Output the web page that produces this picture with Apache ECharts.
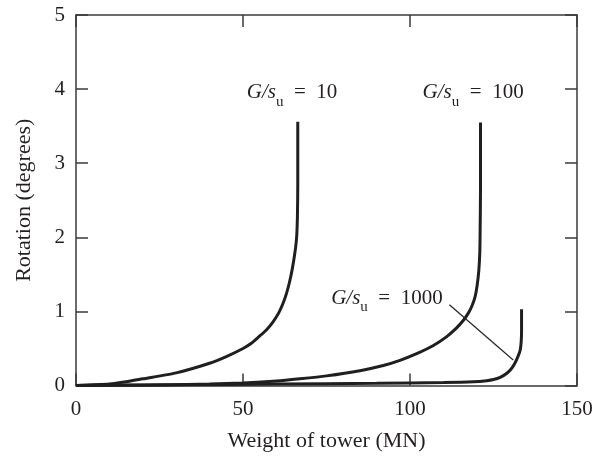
<!DOCTYPE html>
<html>
<head>
<meta charset="utf-8">
<script src="https://cdn.jsdelivr.net/npm/echarts@6/dist/echarts.min.js"></script>
<style>html,body{margin:0;padding:0;background:#fff}#c{width:615px;height:458px}</style>
</head>
<body>
<div id="c"></div>
<script>
// Data
var xTicks = [0, 50, 100, 150];
var yTicks = [0, 1, 2, 3, 4, 5];
var curve10 = [[0,0],[10,0.02],[15,0.05],[20,0.09],[30,0.17],[40,0.30],[45,0.39],[50,0.50],[52.5,0.57],[54.8,0.66],[57,0.75],[59,0.86],[60.7,0.98],[62,1.11],[63,1.24],[63.9,1.39],[64.7,1.56],[65.3,1.72],[65.8,1.88],[66.1,2.03],[66.3,2.3],[66.4,2.7],[66.4,3.56]];
var curve100 = [[0,0],[20,0.005],[40,0.02],[50,0.035],[60,0.06],[67,0.09],[75,0.13],[85,0.2],[92,0.27],[97,0.34],[102,0.43],[107,0.54],[111,0.66],[113.8,0.77],[116,0.88],[117.5,0.98],[118.6,1.08],[119.5,1.2],[120.1,1.35],[120.6,1.55],[120.9,1.8],[121,2.1],[121.1,2.6],[121.1,3.55]];
var curve1000 = [[0,0],[30,0.01],[60,0.02],[90,0.03],[110,0.04],[119,0.05],[123,0.065],[125,0.08],[127,0.11],[129,0.165],[130.4,0.23],[131.4,0.3],[132.4,0.4],[133,0.48],[133.3,0.6],[133.4,0.75],[133.4,1.03]];
var leader1000 = [[111.8,1.09],[130.9,0.345]];
var labelNames = ['10', '100', '1000'];
var labelPos = [[64.7,3.96],[118.9,3.96],[93.1,1.18]];

var FONT = 'Liberation Serif';
var TXT = '#231f20';
var chart = echarts.init(document.getElementById('c'), null, {renderer:'canvas'});
var axisLineStyle = {color:'#3a3a3a', width:1.5};
function baseX(show){
  return {type:'value', min:0, max:150, interval:50,
    axisLine:{show:true, onZero:false, lineStyle:axisLineStyle},
    axisTick:{show:true, inside:true, length:12, lineStyle:axisLineStyle},
    splitLine:{show:false},
    axisLabel:{show:show, fontFamily:FONT, fontSize:21, color:TXT, margin:13}};
}
function baseY(show){
  return {type:'value', min:0, max:5, interval:1,
    axisLine:{show:true, onZero:false, lineStyle:axisLineStyle},
    axisTick:{show:true, inside:true, length:12, lineStyle:axisLineStyle},
    splitLine:{show:false},
    axisLabel:{show:show, fontFamily:FONT, fontSize:21, color:TXT, margin:11}};
}
var xb = baseX(true);
xb.name = 'Weight of tower (MN)'; xb.nameLocation='middle'; xb.nameGap=45;
xb.nameTextStyle = {fontFamily:FONT, fontSize:22, color:TXT};
var xt = baseX(false); xt.position='top';
var yl = baseY(true);
yl.name = 'Rotation (degrees)'; yl.nameLocation='middle'; yl.nameGap=41;
yl.nameTextStyle = {fontFamily:FONT, fontSize:22, color:TXT};
var yr = baseY(false); yr.position='right';

var rich = {
  i:{fontFamily:FONT, fontStyle:'italic', fontSize:21, color:TXT, lineHeight:24, verticalAlign:'middle', textBorderWidth:0},
  sub:{fontFamily:FONT, fontSize:15, color:TXT, lineHeight:34, verticalAlign:'bottom', textBorderWidth:0},
  n:{fontFamily:FONT, fontSize:21, color:TXT, lineHeight:24, verticalAlign:'middle', textBorderWidth:0}
};
function lineSeries(d){
  return {type:'line', data:d, showSymbol:false, smooth:0.2, xAxisIndex:0, yAxisIndex:0,
    lineStyle:{color:'#1f1f1f', width:3}, z:3, silent:true};
}
var labelData = labelPos.map(function(p,i){
  return {value:p, label:{formatter:'{i|G/s}{sub|u}{n|  =  ' + labelNames[i] + '}'}};
});
var option = {
  animation:false,
  backgroundColor:'#fff',
  grid:{left:76, right:38, top:15, bottom:72.5, containLabel:false},
  xAxis:[xb, xt],
  yAxis:[yl, yr],
  series:[
    lineSeries(curve10), lineSeries(curve100), lineSeries(curve1000),
    {type:'line', data:leader1000, showSymbol:false, lineStyle:{color:'#2a2a2a', width:1.3}, silent:true},
    {type:'scatter', data:labelData, symbolSize:0, silent:true, itemStyle:{color:TXT, opacity:1},
      label:{show:true, position:'inside', color:TXT, textBorderWidth:0, textBorderColor:'transparent', opacity:1, rich:rich}}
  ]
};
chart.setOption(option);
</script>
</body>
</html>
